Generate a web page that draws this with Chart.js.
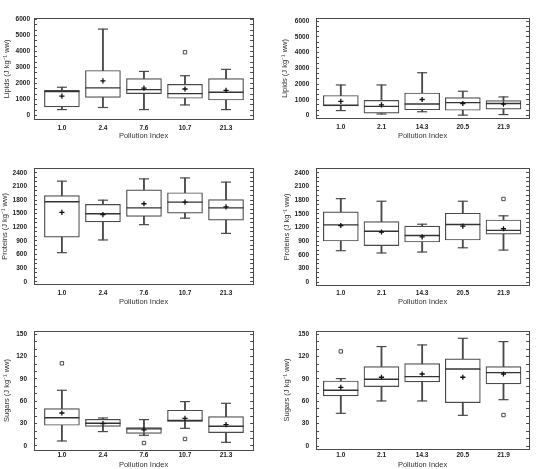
<!DOCTYPE html>
<html><head><meta charset="utf-8">
<script src="https://cdn.jsdelivr.net/npm/chart.js@4.4.1/dist/chart.umd.min.js"></script>
<style>
html,body{margin:0;padding:0;background:#fff;}
body{width:548px;height:469px;position:relative;overflow:hidden;}
canvas{position:absolute;}
</style></head><body>
<canvas id="c1" width="272" height="150" style="left:0px;top:0px"></canvas>
<canvas id="c2" width="272" height="150" style="left:276px;top:0px"></canvas>
<canvas id="c3" width="272" height="160" style="left:0px;top:150px"></canvas>
<canvas id="c4" width="272" height="160" style="left:276px;top:150px"></canvas>
<canvas id="c5" width="272" height="159" style="left:0px;top:310px"></canvas>
<canvas id="c6" width="272" height="159" style="left:276px;top:310px"></canvas>
<script>
// ---- categories and tick labels ----
const leftSites = ['1.0', '2.4', '7.6', '10.7', '21.3'];
const rightSites = ['1.0', '2.1', '14.3', '20.5', '21.9'];
const lipidTicks = [0, 1000, 2000, 3000, 4000, 5000, 6000];
const proteinTicks = [0, 300, 600, 900, 1200, 1500, 1800, 2100, 2400];
const sugarTicks = [0, 30, 60, 90, 120, 150];
const xTitle = 'Pollution Index';

// ---- Lipids, left sites ----
const lipL_low  = [360, 490, 360, 650, 360];
const lipL_q1   = [525, 1120, 1360, 1070, 960];
const lipL_med  = [1490, 1720, 1610, 1360, 1450];
const lipL_q3   = [1570, 2810, 2300, 1940, 2300];
const lipL_high = [1760, 5400, 2750, 2480, 2880];
const lipL_mean = [1200, 2160, 1700, 1650, 1560];
const lipL_out  = [[], [], [], [3950], []];

// ---- Lipids, right sites ----
const lipR_low  = [310, 90, 235, 20, 55];
const lipR_q1   = [600, 145, 360, 330, 400];
const lipR_med  = [650, 580, 725, 815, 760];
const lipR_q3   = [1270, 960, 1430, 1140, 940];
const lipR_high = [1940, 1940, 2720, 1540, 1180];
const lipR_mean = [900, 670, 1015, 760, 725];
const lipR_out  = [[], [], [], [], []];

// ---- Proteins, left sites ----
const proL_low  = [640, 920, 1257, 1400, 1065];
const proL_q1   = [980, 1320, 1441, 1512, 1356];
const proL_med  = [1761, 1498, 1626, 1754, 1626];
const proL_q3   = [1896, 1704, 2024, 1960, 1810];
const proL_high = [2215, 1796, 2265, 2286, 2194];
const proL_mean = [1527, 1477, 1718, 1754, 1647];
const proL_out  = [[], [], [], [], []];

// ---- Proteins, right sites ----
const proR_low  = [689, 639, 660, 753, 703];
const proR_q1   = [902, 802, 880, 923, 1051];
const proR_med  = [1257, 1115, 1022, 1264, 1136];
const proR_q3   = [1541, 1328, 1228, 1512, 1363];
const proR_high = [1832, 1775, 1271, 1775, 1455];
const proR_mean = [1242, 1100, 994, 1228, 1171];
const proR_out  = [[], [], [], [], [1825]];

// ---- Sugars, left sites ----
const sugL_low  = [6.7, 19.3, 14.3, 23.7, 4.9];
const sugL_q1   = [27.8, 26.4, 17, 33, 17.9];
const sugL_med  = [38, 30.5, 23, 34.2, 26.4];
const sugL_q3   = [50.2, 35.8, 24.8, 48, 39.4];
const sugL_high = [74.8, 37.6, 35.4, 59.6, 57.3];
const sugL_mean = [44.3, 30, 21.5, 37, 28.7];
const sugL_out  = [[111], [], [4], [9.4], []];

// ---- Sugars, right sites ----
const sugR_low  = [43.9, 60.5, 60.5, 41.2, 62.2];
const sugR_q1   = [67.2, 79.7, 86, 58.2, 83.3];
const sugR_med  = [74.8, 89.6, 93.1, 103.4, 98.5];
const sugR_q3   = [87.3, 106.6, 110.6, 116.9, 106.6];
const sugR_high = [90.5, 133.5, 135.7, 144.6, 140.2];
const sugR_mean = [78.8, 92.3, 96.7, 92.3, 96.7];
const sugR_out  = [[127], [], [], [], [41.6]];

Chart.defaults.font.family = '"Liberation Sans", Arial, sans-serif';
const INK = '#4a4a4a';
const MINOR_DIV = 3;

const panels = [
  {id:'c1', title:'Lipids (J kg\u207B\u00B9 ww)', labels:leftSites, ticks:lipidTicks,
   low:lipL_low, q1:lipL_q1, med:lipL_med, q3:lipL_q3, high:lipL_high, mean:lipL_mean, out:lipL_out,
   y:[-230, 6040], x:[0.32, 5.66], L:{yW:34, padR:7, padT:4, xH:31, yTickPad:7, yTitlePad:2.8, xLabPad:5.1, xTitlePad:9.5}},
  {id:'c2', title:'Lipids (J kg\u207B\u00B9 ww)', labels:rightSites, ticks:lipidTicks,
   low:lipR_low, q1:lipR_q1, med:lipR_med, q3:lipR_q3, high:lipR_high, mean:lipR_mean, out:lipR_out,
   y:[-163, 6147], x:[0.39, 5.63], L:{yW:40, padR:4, padT:2, xH:32, yTickPad:9.7, yTitlePad:4.5, xLabPad:5.8, xTitlePad:9.5}},
  {id:'c3', title:'Proteins (J kg\u207B\u00B9 ww)', labels:leftSites, ticks:proteinTicks,
   low:proL_low, q1:proL_q1, med:proL_med, q3:proL_q3, high:proL_high, mean:proL_mean, out:proL_out,
   y:[-50, 2485], x:[0.32, 5.66], L:{yW:34, padR:7, padT:15, xH:26, yTickPad:10, yTitlePad:0.5, xLabPad:5.1, xTitlePad:3.8}},
  {id:'c4', title:'Proteins (J kg\u207B\u00B9 ww)', labels:rightSites, ticks:proteinTicks,
   low:proR_low, q1:proR_q1, med:proR_med, q3:proR_q3, high:proR_high, mean:proR_mean, out:proR_out,
   y:[-64, 2485], x:[0.39, 5.63], L:{yW:40, padR:4, padT:15, xH:25, yTickPad:10, yTitlePad:6.2, xLabPad:4.4, xTitlePad:3.8}},
  {id:'c5', title:'Sugars (J kg\u207B\u00B9 ww)', labels:leftSites, ticks:sugarTicks,
   low:sugL_low, q1:sugL_q1, med:sugL_med, q3:sugL_q3, high:sugL_high, mean:sugL_mean, out:sugL_out,
   y:[-5.4, 154.4], x:[0.32, 5.66], L:{yW:34, padR:6, padT:21, xH:19, yTickPad:10, yTitlePad:2.2, xLabPad:1.8, xTitlePad:0}},
  {id:'c6', title:'Sugars (J kg\u207B\u00B9 ww)', labels:rightSites, ticks:sugarTicks,
   low:sugR_low, q1:sugR_q1, med:sugR_med, q3:sugR_q3, high:sugR_high, mean:sugR_mean, out:sugR_out,
   y:[-4, 154.4], x:[0.39, 5.63], L:{yW:40, padR:4, padT:21, xH:20, yTickPad:10, yTitlePad:6.2, xLabPad:2.8, xTitlePad:0}}
];

function withMinors(major) {
  const all = [];
  for (let i = 0; i < major.length - 1; i++) {
    const a = major[i], b = major[i + 1];
    all.push(a);
    for (let k = 1; k < MINOR_DIV; k++) all.push(a + (b - a) * k / MINOR_DIV);
  }
  all.push(major[major.length - 1]);
  return all;
}

function makeChart(p) {
  const xs = p.labels.map((_, i) => i + 1);
  const pts = arr => arr.map((v, i) => ({x: xs[i], y: v}));
  const allTicks = withMinors(p.ticks);
  const tickFont = {size: 6.5, weight: 'bold'};
  const titleFont = {size: 7.5};
  const datasets = [
    {type:'line', label:'mean', data: pts(p.mean), showLine:false, pointStyle:'cross',
     pointRadius:2.6, pointBorderWidth:1.3, pointBorderColor:'#111', order:0},
    {type:'line', label:'outliers', data: p.out.flatMap((list, i) => list.map(v => ({x: xs[i], y: v}))),
     showLine:false, pointStyle:'rect', pointRadius:2.4, pointBorderWidth:1,
     pointBorderColor:INK, pointBackgroundColor:'#fff', order:1},
    {type:'line', label:'median', data: pts(p.med), showLine:false, pointStyle:'line',
     pointRadius:17.5, pointBorderWidth:1.4, pointBorderColor:'#333', order:1},
    {type:'bar', label:'box', data: xs.map((x, i) => ({x: x, y: [p.q1[i], p.q3[i]]})),
     barThickness:35, grouped:false, backgroundColor:'#fff', borderColor:INK,
     borderWidth:1.2, borderSkipped:false, order:2},
    {type:'line', label:'caps', data: pts(p.low).concat(pts(p.high)), showLine:false,
     pointStyle:'line', pointRadius:5, pointBorderWidth:1.2, pointBorderColor:INK, order:3},
    {type:'bar', label:'whisker', data: xs.map((x, i) => ({x: x, y: [p.low[i], p.high[i]]})),
     barThickness:1.2, grouped:false, backgroundColor:INK, borderWidth:0, order:4}
  ];
  const L = p.L;
  new Chart(document.getElementById(p.id), {
    type: 'bar',
    data: {datasets},
    options: {
      responsive:false, animation:false, devicePixelRatio:1, events:[],
      plugins:{legend:{display:false}, tooltip:{enabled:false}},
      layout:{padding:{left:0, right:L.padR, top:L.padT, bottom:0}},
      scales: {
        x: {type:'linear', position:'bottom', min:p.x[0], max:p.x[1], offset:false, bounds:'data',
            afterBuildTicks: s => { s.ticks = xs.map(v => ({value: v})); },
            afterFit: s => { s.height = L.xH; },
            grid:{display:false, drawTicks:false, offset:false},
            border:{display:true, color:INK, width:1},
            ticks:{autoSkip:false, maxRotation:0, padding:L.xLabPad, font:tickFont, color:'#222',
                   callback: v => { const i = xs.indexOf(v); return i >= 0 ? p.labels[i] : ''; }},
            title:{display:true, text:xTitle, font:titleFont, color:'#333', padding:{top:0, bottom:L.xTitlePad}}},
        x2: {type:'linear', position:'top', min:p.x[0], max:p.x[1], offset:false, bounds:'data',
             afterFit: s => { s.height = 0; },
             grid:{display:false, drawTicks:false}, border:{display:true, color:INK, width:1},
             ticks:{display:false}},
        y: {type:'linear', position:'left', min:p.y[0], max:p.y[1], bounds:'data',
            afterBuildTicks: s => { s.ticks = allTicks.map(v => ({value: v})); },
            afterFit: s => { s.width = L.yW; },
            grid:{display:true, drawOnChartArea:false, drawTicks:true, tickLength:-3, color:INK, lineWidth:1},
            border:{display:true, color:INK, width:1},
            ticks:{autoSkip:false, padding:L.yTickPad, font:tickFont, color:'#222',
                   callback: v => p.ticks.includes(v) ? String(v) : ''},
            title:{display:true, text:p.title, font:titleFont, color:'#333', padding:{top:L.yTitlePad, bottom:0}}},
        y2: {type:'linear', position:'right', min:p.y[0], max:p.y[1], bounds:'data',
             afterBuildTicks: s => { s.ticks = allTicks.map(v => ({value: v})); },
             afterFit: s => { s.width = 0; },
             grid:{display:true, drawOnChartArea:false, drawTicks:true, tickLength:-3, color:INK, lineWidth:1},
             border:{display:true, color:INK, width:1},
             ticks:{display:false}}
      }
    }
  });
}
panels.forEach(makeChart);
</script>
</body></html>
